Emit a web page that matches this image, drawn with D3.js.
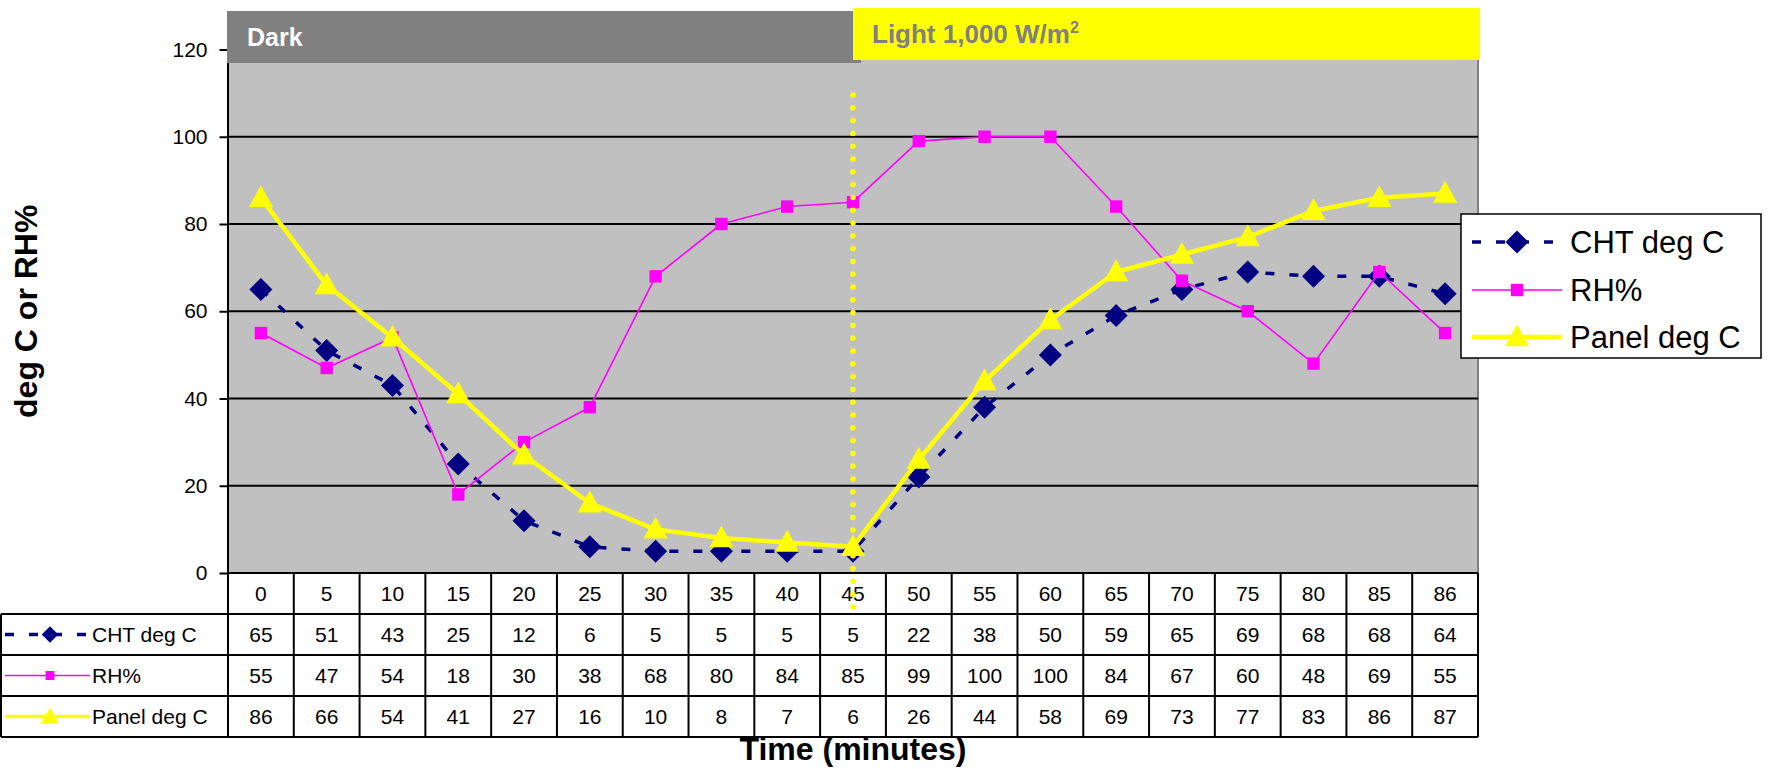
<!DOCTYPE html>
<html>
<head>
<meta charset="utf-8">
<script src="https://cdn.jsdelivr.net/npm/d3@7"></script>
<style>
  html, body { margin: 0; padding: 0; background: #ffffff; }
  svg { display: block; }
  text { font-family: "Liberation Sans", Arial, sans-serif; }
</style>
</head>
<body>
<svg id="chart" width="1773" height="769"></svg>
<script>
// ---------- data ----------
const timeLabels = ["0","5","10","15","20","25","30","35","40","45","50","55","60","65","70","75","80","85","86"];
const chtValues   = [65,51,43,25,12,6,5,5,5,5,22,38,50,59,65,69,68,68,64];
const rhValues    = [55,47,54,18,30,38,68,80,84,85,99,100,100,84,67,60,48,69,55];
const panelValues = [86,66,54,41,27,16,10,8,7,6,26,44,58,69,73,77,83,86,87];
const seriesNames = ["CHT deg C","RH%","Panel deg C"];
const yTicks = [0,20,40,60,80,100,120];
const darkLabel = "Dark";
const lightLabel = "Light 1,000 W/m";
const lightStart = "45";
const xTitle = "Time (minutes)";
const yTitle = "deg C or RH%";

// ---------- layout ----------
const svg = d3.select("#chart");
const plotL = 228, plotR = 1478, plotT = 49.5, plotB = 573;
const rowH = 41;

const x = d3.scaleBand().domain(timeLabels).range([plotL, plotR]).padding(0);
const y = d3.scaleLinear().domain([0, 120]).range([plotB, plotT]);
const cx = d => x(d) + x.bandwidth() / 2;

const series = [
  { name: seriesNames[0], values: chtValues,   color: "#000080", width: 3.5, dash: "9,15", marker: "diamond" },
  { name: seriesNames[1], values: rhValues,    color: "#FF00FF", width: 1.6, dash: null,   marker: "square" },
  { name: seriesNames[2], values: panelValues, color: "#FFFF00", width: 4.5, dash: null,   marker: "triangle" }
];

// plot background
svg.append("rect").attr("x", plotL).attr("y", plotT).attr("width", plotR - plotL).attr("height", plotB - plotT)
  .attr("fill", "#C0C0C0");
svg.append("line").attr("x1", plotR).attr("x2", plotR).attr("y1", plotT).attr("y2", plotB)
  .attr("stroke", "#808080").attr("stroke-width", 2);

// gridlines
svg.append("g").selectAll("line").data(yTicks.filter(t => t > 0)).join("line")
  .attr("x1", plotL).attr("x2", plotR).attr("y1", d => y(d)).attr("y2", d => y(d))
  .attr("stroke", "#000").attr("stroke-width", 2);

// y axis
const yAxis = svg.append("g").attr("transform", `translate(${plotL - 0.5},0)`)
  .call(d3.axisLeft(y).tickValues(yTicks).tickSize(8).tickPadding(12).tickSizeOuter(0));
yAxis.select(".domain").attr("stroke", "#000").attr("stroke-width", 2);
yAxis.selectAll(".tick line").attr("stroke", "#000").attr("stroke-width", 2);
yAxis.selectAll(".tick text").attr("font-size", 21).attr("fill", "#000")
  .attr("font-family", "Liberation Sans, Arial, sans-serif");

// marker shapes
function markerPath(type, s) {
  if (type === "diamond") return `M0,${-s} L${s},0 L0,${s} L${-s},0 Z`;
  if (type === "square") return `M${-s},${-s} H${s} V${s} H${-s} Z`;
  return `M0,${-s * 1.1} L${s * 1.05},${s * 0.8} L${-s * 1.05},${s * 0.8} Z`;
}
const markerSize = { diamond: 11.5, square: 6.2, triangle: 11.5 };

// series lines + markers
series.forEach(s => {
  const line = d3.line().x((v, i) => cx(timeLabels[i])).y(v => y(v));
  svg.append("path").datum(s.values).attr("d", line)
    .attr("fill", "none").attr("stroke", s.color).attr("stroke-width", s.width)
    .attr("stroke-dasharray", s.dash).attr("stroke-linejoin", "round");
  svg.append("g").selectAll("path").data(s.values).join("path")
    .attr("transform", (v, i) => `translate(${cx(timeLabels[i])},${y(v)})`)
    .attr("d", markerPath(s.marker, markerSize[s.marker]))
    .attr("fill", s.color);
});

// ---------- data table ----------
const table = svg.append("g");
const tableBottom = plotB + 4 * rowH;
// white cells
table.append("rect").attr("x", plotL).attr("y", plotB).attr("width", plotR - plotL).attr("height", rowH).attr("fill", "#fff");
table.append("rect").attr("x", 1).attr("y", plotB + rowH).attr("width", plotR - 1).attr("height", 3 * rowH).attr("fill", "#fff");
// horizontal lines
table.append("line").attr("x1", plotL).attr("x2", plotR).attr("y1", plotB).attr("y2", plotB).attr("stroke", "#000").attr("stroke-width", 2);
[1, 2, 3, 4].forEach(k => {
  table.append("line").attr("x1", 1).attr("x2", plotR).attr("y1", plotB + k * rowH).attr("y2", plotB + k * rowH)
    .attr("stroke", "#000").attr("stroke-width", 2);
});
// vertical lines
table.selectAll("line.col").data(timeLabels.concat(["end"])).join("line").attr("class", "col")
  .attr("x1", (d, i) => i < timeLabels.length ? x(d) : plotR)
  .attr("x2", (d, i) => i < timeLabels.length ? x(d) : plotR)
  .attr("y1", plotB).attr("y2", tableBottom).attr("stroke", "#000").attr("stroke-width", 2);
table.append("line").attr("x1", 1).attr("x2", 1).attr("y1", plotB + rowH).attr("y2", tableBottom)
  .attr("stroke", "#000").attr("stroke-width", 2);

// header row text (x values)
table.selectAll("text.hdr").data(timeLabels).join("text").attr("class", "hdr")
  .attr("x", d => cx(d)).attr("y", plotB + rowH / 2 + 7.5)
  .attr("text-anchor", "middle").attr("font-size", 21).text(d => d);

// value rows
series.forEach((s, r) => {
  const ry = plotB + (r + 1) * rowH;
  table.append("g").selectAll("text").data(s.values).join("text")
    .attr("x", (v, i) => cx(timeLabels[i])).attr("y", ry + rowH / 2 + 7.5)
    .attr("text-anchor", "middle").attr("font-size", 21).text(v => v);
  // legend key
  table.append("line").attr("x1", 5).attr("x2", 90).attr("y1", ry + rowH / 2).attr("y2", ry + rowH / 2)
    .attr("stroke", s.color).attr("stroke-width", s.width === 1.6 ? 1.6 : 3.5)
    .attr("stroke-dasharray", s.dash);
  table.append("path").attr("transform", `translate(50,${ry + rowH / 2})`)
    .attr("d", markerPath(s.marker, markerSize[s.marker] * 0.72)).attr("fill", s.color);
  table.append("text").attr("x", 92).attr("y", ry + rowH / 2 + 7.5)
    .attr("font-size", 21).text(s.name);
});

// ---------- dark / light header bars ----------
const splitX = cx(lightStart);
svg.append("rect").attr("x", plotL - 1).attr("y", 11).attr("width", 861 - (plotL - 1)).attr("height", 52)
  .attr("fill", "#808080");
svg.append("rect").attr("x", splitX).attr("y", 8).attr("width", plotR + 2 - splitX).attr("height", 52)
  .attr("fill", "#FFFF00");
svg.append("text").attr("x", 247).attr("y", 46).attr("font-size", 25).attr("font-weight", "bold")
  .attr("fill", "#fff").text(darkLabel);
const lt = svg.append("text").attr("x", 872).attr("y", 43).attr("font-size", 26).attr("font-weight", "bold")
  .attr("fill", "#808080");
lt.append("tspan").text(lightLabel);
lt.append("tspan").attr("font-size", 16).attr("dy", -10).text("2");

// dotted vertical separator
svg.append("line").attr("x1", splitX).attr("x2", splitX).attr("y1", 95).attr("y2", 612)
  .attr("stroke", "#FFFF00").attr("stroke-width", 5.5).attr("stroke-linecap", "round")
  .attr("stroke-dasharray", "0,12.8");

// ---------- legend ----------
const lg = svg.append("g");
lg.append("rect").attr("x", 1461).attr("y", 214).attr("width", 300).attr("height", 144)
  .attr("fill", "#fff").attr("stroke", "#000").attr("stroke-width", 1.5);
const legendY = [242, 290, 337];
series.forEach((s, i) => {
  lg.append("line").attr("x1", 1472).attr("x2", 1562).attr("y1", legendY[i]).attr("y2", legendY[i])
    .attr("stroke", s.color).attr("stroke-width", s.width).attr("stroke-dasharray", s.dash);
  lg.append("path").attr("transform", `translate(1517,${legendY[i]})`)
    .attr("d", markerPath(s.marker, markerSize[s.marker])).attr("fill", s.color);
  lg.append("text").attr("x", 1570).attr("y", legendY[i] + 11).attr("font-size", 31).text(s.name);
});

// ---------- axis titles ----------
svg.append("text").attr("x", (plotL + plotR) / 2).attr("y", 760).attr("text-anchor", "middle")
  .attr("font-size", 32).attr("font-weight", "bold").text(xTitle);
svg.append("text").attr("transform", `translate(37,${(plotT + plotB) / 2}) rotate(-90)`)
  .attr("text-anchor", "middle").attr("font-size", 32).attr("font-weight", "bold").text(yTitle);
</script>
</body>
</html>
